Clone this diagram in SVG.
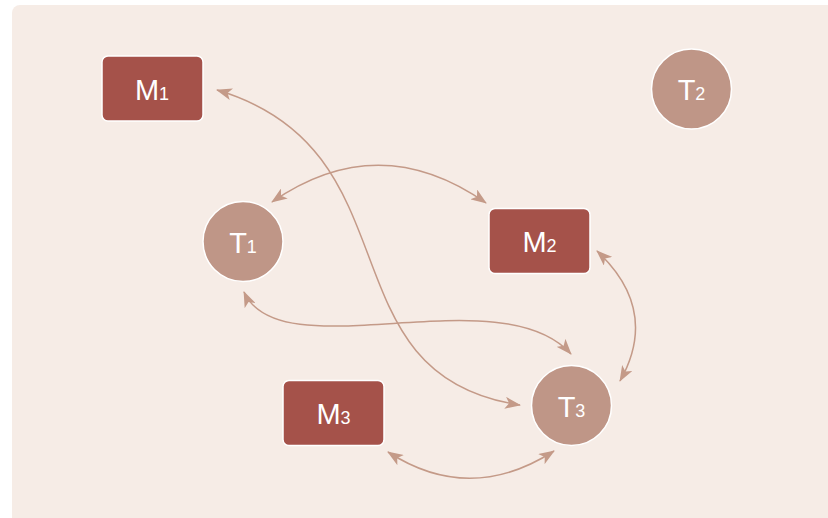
<svg xmlns="http://www.w3.org/2000/svg" width="828" height="518" viewBox="0 0 828 518">
<style>
.bg{fill:#f6ece6}
.m{fill:#a5524a;stroke:#ffffff;stroke-width:1.5}
.t{fill:#bf9687;stroke:#ffffff;stroke-width:1.5}
.lbl{font-family:"Liberation Sans",Arial,sans-serif;font-size:29px;fill:#ffffff;text-anchor:middle}
.sub{font-size:18px}
.e{fill:none;stroke:#c49a88;stroke-width:1.5;marker-start:url(#ah);marker-end:url(#ah)}
</style>
<defs>
<marker id="ah" viewBox="0 0 16 12" refX="15" refY="6" markerWidth="16" markerHeight="12" markerUnits="userSpaceOnUse" orient="auto-start-reverse">
<path d="M0,0 L16,6 L0,12 L4,6 Z" fill="#c49a88"/>
</marker>
</defs>
<rect x="0" y="0" width="828" height="518" fill="#ffffff"/>
<rect class="bg" x="12" y="5" width="830" height="530" rx="8"/>
<g id="connectors">
<path class="e" d="M217,90 C420,150 320,375 520,405"/>
<path class="e" d="M272,202 Q379,128 486,203"/>
<path class="e" d="M244,292 C280,372 500,275 571,354"/>
<path class="e" d="M597,251 Q660,310 620,381"/>
<path class="e" d="M388,452 Q470,505 554,451"/>
</g>
<g id="M1"><rect class="m" x="102" y="56" width="101" height="65" rx="6"/><text class="lbl" x="152" y="99.5">M<tspan class="sub">1</tspan></text></g>
<g id="T2"><circle class="t" cx="691.5" cy="89" r="40"/><text class="lbl" x="691.5" y="99.5">T<tspan class="sub">2</tspan></text></g>
<g id="T1"><circle class="t" cx="243" cy="241.5" r="40"/><text class="lbl" x="243" y="252.5">T<tspan class="sub">1</tspan></text></g>
<g id="M2"><rect class="m" x="489" y="208.5" width="101" height="65" rx="6"/><text class="lbl" x="539.5" y="252">M<tspan class="sub">2</tspan></text></g>
<g id="M3"><rect class="m" x="283" y="380.5" width="101" height="65" rx="6"/><text class="lbl" x="333.5" y="424">M<tspan class="sub">3</tspan></text></g>
<g id="T3"><circle class="t" cx="571.5" cy="405.5" r="40"/><text class="lbl" x="571.5" y="416.5">T<tspan class="sub">3</tspan></text></g>
</svg>
